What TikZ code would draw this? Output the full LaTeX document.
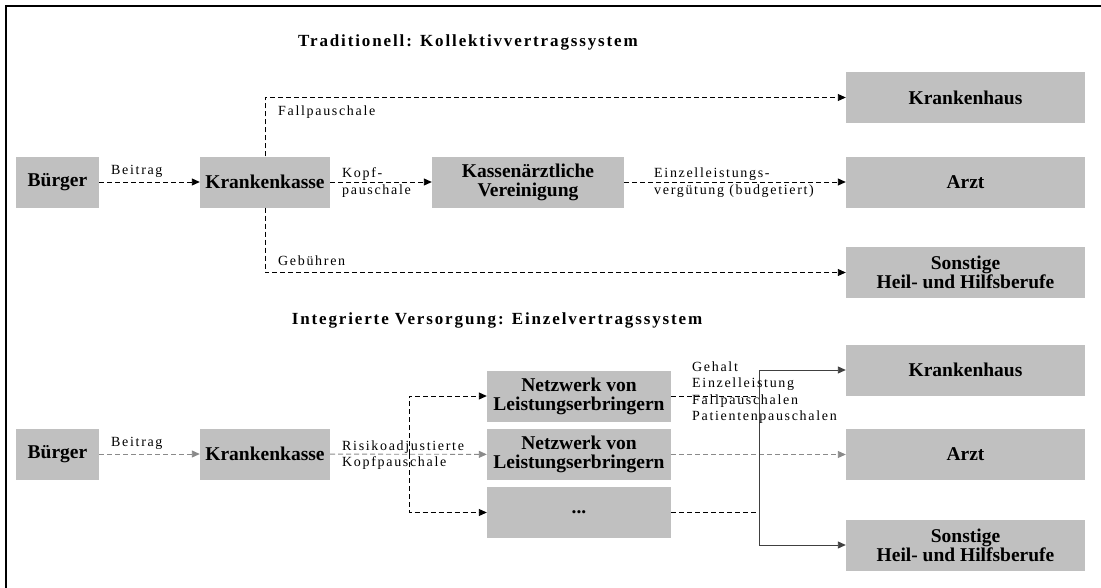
\documentclass[tikz,border=0pt]{standalone}
\usepackage{fontspec}
\setmainfont{Liberation Serif}
\newfontfamily\lblfont[LetterSpace=12]{Liberation Serif}
\newfontfamily\ttlfont[LetterSpace=11]{Liberation Serif}
\usetikzlibrary{positioning,arrows.meta,calc}
\usepackage{xcolor}
\definecolor{boxgray}{HTML}{C0C0C0}
\definecolor{dashgray}{HTML}{8A8A8A}
\definecolor{linedark}{HTML}{404040}

\begin{document}
\begin{tikzpicture}[x=1pt,y=-1pt,
  box/.style={fill=boxgray,inner sep=0pt,align=center,minimum height=51pt,
    font=\bfseries\fontsize{19.5}{19}\selectfont},
  lbl/.style={inner sep=0pt,anchor=west,align=left,font=\lblfont\fontsize{14}{16.5}\selectfont},
  ttl/.style={inner sep=0pt,font=\ttlfont\bfseries\fontsize{17}{19}\selectfont},
  dline/.style={dash pattern=on 5pt off 3pt,line width=0.9pt,-{Triangle[length=8pt,width=7pt]}},
  gline/.style={dline,dashgray},
  sline/.style={linedark,line width=0.9pt,-{Triangle[length=8pt,width=7pt]}}]
\clip (0,0) rectangle (1101,587);
\draw[line width=2pt] (6,6) rectangle (1120,600);

\node[ttl] (ttlA) at (468,42) {Traditionell: Kollektivvertragssystem};
\node[box,minimum width=83pt] (buergerA) at (57.5,182) {Bürger};
\node[box,minimum width=130pt] (kasseA) at (265,182) {Krankenkasse};
\node[box,minimum width=192pt] (kvA) at (528,182) {Kassenärztliche\\Vereinigung};
\node[box,minimum width=239pt] (hausA) at (965.5,97.5) {Krankenhaus};
\node[box,minimum width=239pt] (arztA) at (965.5,182) {Arzt};
\node[box,minimum width=239pt] (sonstA) at (965.5,272.5) {Sonstige\\Heil- und Hilfsberufe};
\draw[dline] (buergerA) -- (kasseA);
\draw[dline] (kasseA) -- (kvA);
\draw[dline] (kvA) -- (arztA);
\draw[dline] (kasseA.north) |- (hausA.west);
\draw[dline] (kasseA.south) |- (sonstA.west);
\node[lbl] (beitragA) at (111,171) {Beitrag};
\node[lbl] (kopfA) at (342,182.5) {Kopf-\\pauschale};
\node[lbl] (einzelA) at (654,182.5) {Einzelleistungs-\\vergütung (budgetiert)};
\node[lbl] (fallA) at (278,112) {Fallpauschale};
\node[lbl] (gebA) at (278,261) {Gebühren};

\node[ttl] (ttlB) at (497,320) {Integrierte Versorgung: Einzelvertragssystem};
\node[box,minimum width=83pt] (buergerB) at (57.5,454) {Bürger};
\node[box,minimum width=130pt] (kasseB) at (265,454) {Krankenkasse};
\node[box,minimum width=184pt] (netzA) at (579,396) {Netzwerk von\\Leistungserbringern};
\node[box,minimum width=184pt] (netzB) at (579,454.5) {Netzwerk von\\Leistungserbringern};
\node[box,minimum width=184pt] (netzC) at (579,512.5) {...};
\node[box,minimum width=239pt] (hausB) at (965.5,370) {Krankenhaus};
\node[box,minimum width=239pt] (arztB) at (965.5,454.5) {Arzt};
\node[box,minimum width=239pt] (sonstB) at (965.5,545) {Sonstige\\Heil- und Hilfsberufe};
\coordinate (split) at (409,454);
\coordinate (join) at (759,454);
\draw[gline] (buergerB) -- (kasseB);
\draw[gline] (kasseB) -- (netzB);
\draw[dline] (split) |- (netzA.west);
\draw[dline] (split) |- (netzC.west);
\draw[gline] (netzB) -- (arztB);
\draw[dline,-] (netzA.east) -- (netzA.east -| join);
\draw[dline,-] (netzC.east) -- (netzC.east -| join);
\draw[sline] (join) |- (hausB.west);
\draw[sline] (join) |- (sonstB.west);
\node[lbl] (beitragB) at (111,443) {Beitrag};
\node[lbl] (risikoB) at (342,455) {Risikoadjustierte\\Kopfpauschale};
\node[lbl] (gehaltB) at (692,392.5) {Gehalt\\Einzelleistung\\Fallpauschalen\\Patientenpauschalen};
\end{tikzpicture}
\end{document}
